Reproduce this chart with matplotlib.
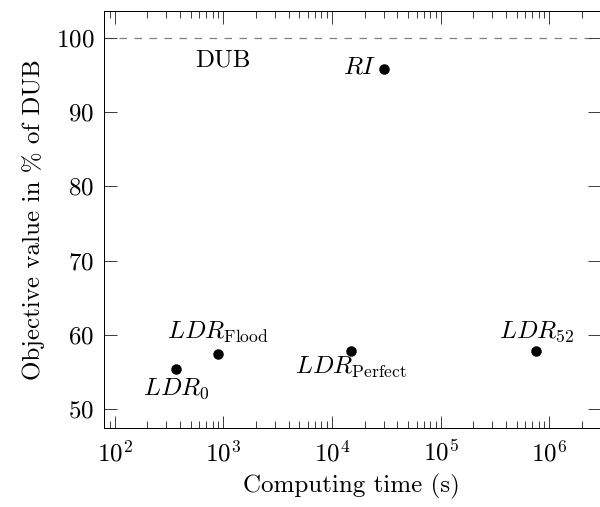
import matplotlib
matplotlib.use("Agg")
import matplotlib.pyplot as plt
from matplotlib.ticker import LogLocator, FixedLocator, NullFormatter

# pgfplots-ish look: Computer Modern, thin box, ticks inside on all sides
plt.rcParams.update({
    "font.family": "serif",
    "font.serif": ["cmr10", "DejaVu Serif"],
    "mathtext.fontset": "cm",
    "axes.formatter.use_mathtext": True,
    "font.size": 10,
    "axes.linewidth": 0.4,
    "lines.scale_dashes": False,
})

# data
methods = [r"$LDR_0$", r"$LDR_{\mathrm{Flood}}$", r"$LDR_{\mathrm{Perfect}}$",
           r"$LDR_{52}$", r"$RI$"]
times = [370, 900, 15000, 760000, 30000]          # s
values = [55.4, 57.5, 57.9, 57.9, 95.8]           # % of DUB
dub_value = 100
yticks = [50, 60, 70, 80, 90, 100]

# where each label sits relative to its dot (offset in pt, ha, va)
label_pos = [
    ((0, -3.0), "center", "top"),
    ((0, 3.5), "center", "bottom"),
    ((0, -1.5), "center", "top"),
    ((0, 2.5), "center", "bottom"),
    ((-3.0, 0.5), "right", "center"),
]

DPI = 180   # 2.5 px per pt, like the reference
W, H = 600, 507
fig = plt.figure(figsize=(W / DPI, H / DPI), dpi=DPI)
ax = fig.add_axes([104 / W, 1 - 428 / H, (599.6 - 104) / W, (428 - 11) / H])

ax.axhline(dub_value, color="0.5", lw=0.5, dashes=(3, 3), zorder=1)
ax.text(1000, 96.9, "DUB", ha="center", va="center")

ax.plot(times, values, "o", color="black", ms=4.2, mew=0, zorder=3)
for t, v, name, (off, ha, va) in zip(times, values, methods, label_pos):
    ax.annotate(name, (t, v), xytext=off, textcoords="offset points",
                ha=ha, va=va)

ax.set_xscale("log")
ax.set_xlim(80, 2.9e6)
ax.set_ylim(47.5, 103.6)
ax.xaxis.set_major_locator(FixedLocator([1e2, 1e3, 1e4, 1e5, 1e6]))
ax.xaxis.set_minor_locator(LogLocator(base=10, subs=range(2, 10), numticks=20))
ax.xaxis.set_minor_formatter(NullFormatter())
ax.set_yticks(yticks)

ax.tick_params(which="both", direction="in", top=True, right=True,
               width=0.4, color="0.25")
ax.tick_params(which="major", length=5.0, pad=4)
ax.tick_params(which="minor", length=2.85)
ax.tick_params(axis="x", which="major", pad=5)

ax.set_xlabel("Computing time (s)", labelpad=3)
ax.set_ylabel("Objective value in % of DUB", labelpad=4)

fig.savefig("out.png", dpi=DPI)
